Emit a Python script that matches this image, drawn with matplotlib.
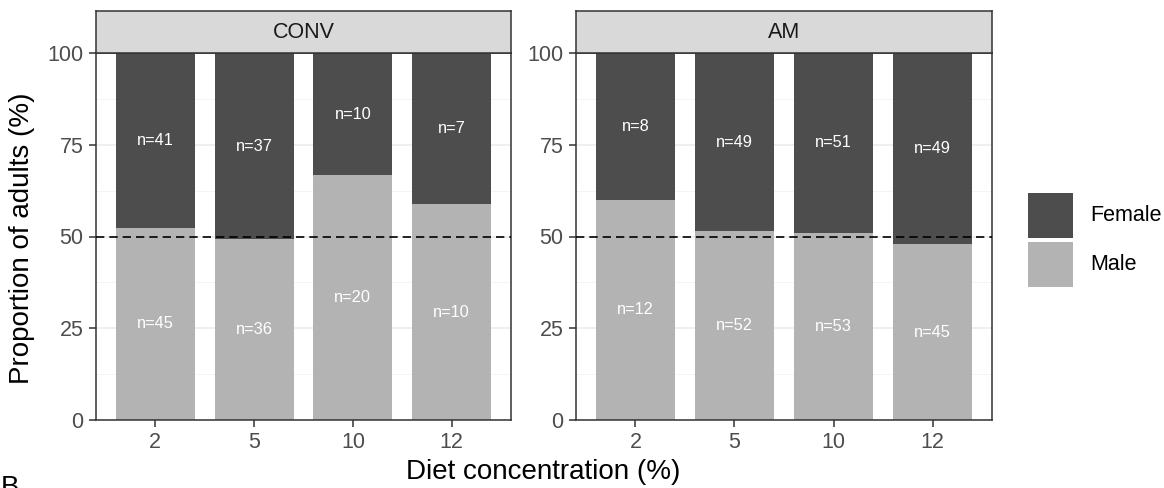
import matplotlib
matplotlib.use("Agg")
import matplotlib.pyplot as plt
from matplotlib.patches import Rectangle
import numpy as np

# Counts of emerged adults per diet concentration and rearing treatment
treatments = ["CONV", "AM"]
diet_labels = ["2", "5", "10", "12"]
sexes = ["Female", "Male"]
male_counts = {"CONV": [45, 36, 20, 10], "AM": [12, 52, 53, 45]}
female_counts = {"CONV": [41, 37, 10, 7], "AM": [8, 49, 51, 49]}

colors = {"Female": "#4d4d4d", "Male": "#b3b3b3"}
plt.rcParams["font.family"] = ["Liberation Sans", "DejaVu Sans"]

W, H = 1164, 488
fig = plt.figure(figsize=(W / 100, H / 100), dpi=100)


def fx(px):
    return px / W


def fy(py):
    return 1 - py / H


panel_top, panel_bottom = 53, 420
strip_top = 11
panels = {"CONV": (96, 511), "AM": (576, 992)}
frame_col = "#333333"

for trt in treatments:
    x0, x1 = panels[trt]
    ax = fig.add_axes([fx(x0), fy(panel_bottom), (x1 - x0) / W, (panel_bottom - panel_top) / H])
    m = np.array(male_counts[trt], dtype=float)
    f = np.array(female_counts[trt], dtype=float)
    tot = m + f
    pm = 100 * m / tot
    pf = 100 * f / tot
    xs = np.arange(1, len(diet_labels) + 1)

    ax.set_xlim(0.4, len(diet_labels) + 0.6)
    ax.set_ylim(0, 100)
    ax.set_yticks([0, 25, 50, 75, 100])
    ax.set_yticks([12.5, 37.5, 62.5, 87.5], minor=True)
    ax.grid(True, which="major", axis="y", color="#ebebeb", lw=1.1, zorder=0)
    ax.grid(True, which="minor", axis="y", color="#f2f2f2", lw=0.6, zorder=0)
    ax.set_axisbelow(True)

    ax.bar(xs, pm, width=0.8, color=colors["Male"], zorder=2)
    ax.bar(xs, pf, bottom=pm, width=0.8, color=colors["Female"], zorder=2)
    for xi, a, b, cm, cf in zip(xs, pm, pf, m, f):
        ax.text(xi, a / 2, f"n={int(cm)}", color="white", ha="center", va="center",
                fontsize=11.8, zorder=3)
        ax.text(xi, a + b / 2, f"n={int(cf)}", color="white", ha="center", va="center",
                fontsize=11.8, zorder=3)

    ax.axhline(50, color="black", lw=1.2, ls=(0, (5, 3)), zorder=4)

    ax.set_xticks(xs)
    ax.set_xticklabels(diet_labels)
    ax.tick_params(axis="both", which="major", length=5, width=1.1, color=frame_col,
                   labelcolor="#4d4d4d", labelsize=15.5, pad=4)
    ax.tick_params(axis="y", which="minor", length=0)
    for sp in ax.spines.values():
        sp.set_color(frame_col)
        sp.set_linewidth(1.1)

    sax = fig.add_axes([fx(x0), fy(panel_top), (x1 - x0) / W, (panel_top - strip_top) / H])
    sax.set_facecolor("#d9d9d9")
    sax.set_xticks([])
    sax.set_yticks([])
    for sp in sax.spines.values():
        sp.set_color(frame_col)
        sp.set_linewidth(1.1)
    sax.text(0.5, 0.5, trt, ha="center", va="center", fontsize=15.5, color="#1a1a1a",
             transform=sax.transAxes)

fig.text(fx(22.5), fy(238), "Proportion of adults (%)",
         rotation=90, ha="center", va="center", fontsize=20)
fig.text(fx(543), fy(479), "Diet concentration (%)", ha="center", va="baseline",
         fontsize=20)

# Legend keys
key_x, key_w = 1028, 45
key_tops = {"Female": 193, "Male": 242}
for s in sexes:
    t = key_tops[s]
    fig.patches.append(Rectangle((fx(key_x), fy(t + key_w)), key_w / W, key_w / H,
                                 transform=fig.transFigure, facecolor=colors[s],
                                 edgecolor="none"))
    fig.text(fx(1090), fy(t + key_w / 2), s, ha="left", va="center", fontsize=15.5,
             color="black")

fig.text(fx(1), fy(495), "B", ha="left", va="baseline", fontsize=20)

fig.savefig("out.png", dpi=100, facecolor="white")
